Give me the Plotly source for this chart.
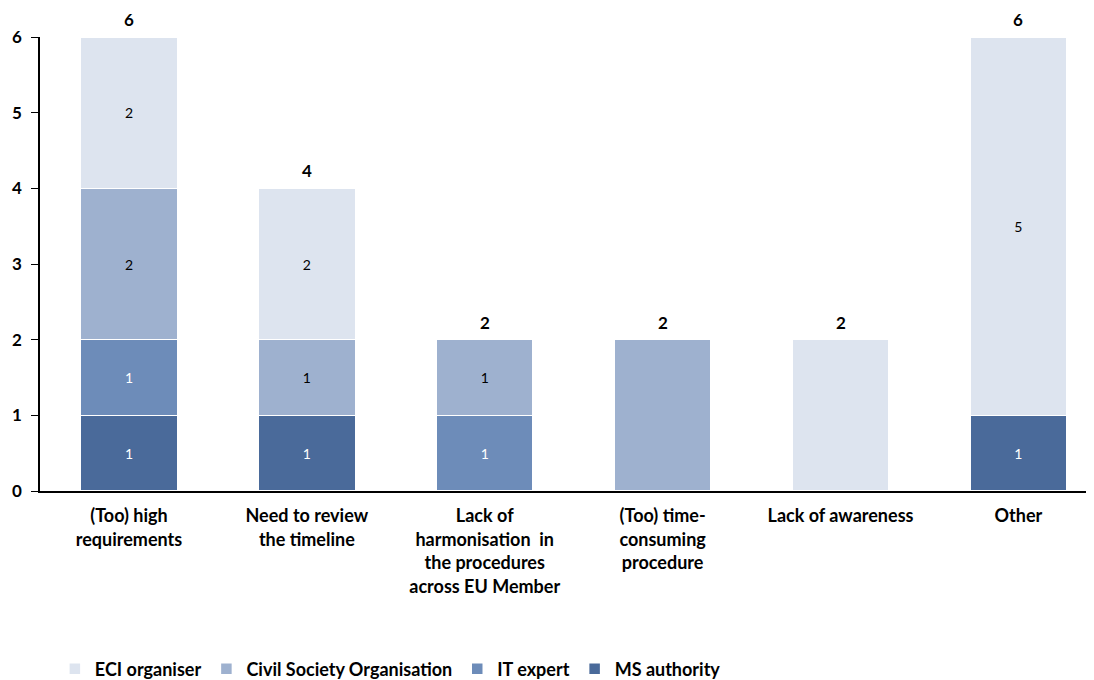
import plotly.graph_objects as go

categories = ["(Too) high<br>requirements", "Need to review<br>the timeline",
              "Lack of<br>harmonisation  in<br>the procedures<br>across EU Member",
              "(Too) time-<br>consuming<br>procedure", "Lack of awareness", "Other"]
ms_authority = [1, 1, 0, 0, 0, 1]
it_expert = [1, 0, 1, 0, 0, 0]
civil_society = [2, 1, 1, 2, 0, 0]
eci_organiser = [2, 2, 0, 0, 2, 5]

series = [
    ("MS authority", ms_authority, "#4a6a9a", "white"),
    ("IT expert", it_expert, "#6d8cb9", "white"),
    ("Civil Society Organisation", civil_society, "#9eb1cf", "black"),
    ("ECI organiser", eci_organiser, "#dde4ef", "black"),
]
totals = [sum(v) for v in zip(*(s[1] for s in series))]

font_family = "Lato, 'Open Sans', sans-serif"
fig = go.Figure()
x_idx = list(range(len(categories)))
for name, vals, color, tcolor in series:
    texts = [str(v) if (v and v != t) else "" for v, t in zip(vals, totals)]
    fig.add_trace(go.Bar(
        name=name, x=x_idx, y=vals, width=0.545,
        marker=dict(color=color, line=dict(color="white", width=1.5)),
        text=texts, textposition="inside", insidetextanchor="middle",
        textfont=dict(color=tcolor, size=14, family=font_family),
        textangle=0, hoverinfo="skip"))

for xi, t in zip(x_idx, totals):
    fig.add_annotation(x=xi, y=t, text=str(t), showarrow=False, yanchor="bottom",
                       yshift=5, font=dict(size=17, color="black", weight="bold"))

fig.update_layout(
    barmode="stack", width=1094, height=680,
    margin=dict(l=32, r=0, t=29, b=197),
    plot_bgcolor="white", paper_bgcolor="white",
    font=dict(family=font_family, color="black", size=17),
    legend=dict(orientation="h", x=0.014, y=-0.433, yanchor="bottom", xanchor="left",
                traceorder="reversed", font=dict(size=18, weight="bold"),
                itemwidth=30),
    xaxis=dict(tickmode="array", tickvals=x_idx, ticktext=categories,
               range=[-0.5, 5.47], showline=True, linecolor="black", linewidth=1.5,
               ticks="", tickfont=dict(size=18, weight="bold"), showgrid=False,
               zeroline=False, automargin=False, ticklabelstandoff=8),
    yaxis=dict(range=[0, 6], dtick=1, showline=True, linecolor="black", linewidth=1.5,
               ticks="outside", ticklen=7, tickcolor="black", ticklabelstandoff=6,
               tickfont=dict(size=17, weight="bold"), showgrid=False, zeroline=False,
               automargin=False),
)
fig.write_html("out.html")
